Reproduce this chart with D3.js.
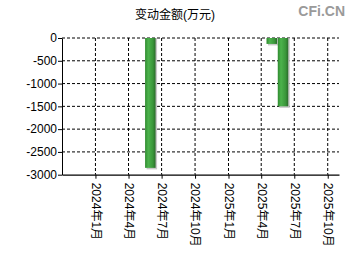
<!DOCTYPE html>
<html>
<head>
<meta charset="utf-8">
<script src="https://cdn.jsdelivr.net/npm/d3@7"></script>
<style>
  body { margin: 0; background: #fff; }
  text { font-family: "Liberation Sans", Arial, "Noto Sans CJK SC", sans-serif; }
</style>
</head>
<body>
<div id="chart"></div>
<script>
// data
const dates = ["2024-05-31", "2025-04-30", "2025-05-31"];
const values = [-2850, -130, -1500];
const yTicks = [0, -500, -1000, -1500, -2000, -2500, -3000];
const xTicks = ["2024-01-01", "2024-04-01", "2024-07-01", "2024-10-01",
                "2025-01-01", "2025-04-01", "2025-07-01", "2025-10-01"];
const title = "变动金额(万元)";

const W = 350, H = 260;
const margin = {top: 38, right: 11, bottom: 85.3, left: 62};
const parse = d3.timeParse("%Y-%m-%d");

const svg = d3.select("#chart").append("svg")
    .attr("width", W).attr("height", H);

const x = d3.scaleTime()
    .domain([parse("2023-10-01"), parse("2025-11-01")])
    .range([margin.left, W - margin.right]);

const y = d3.scaleLinear()
    .domain([-3000, 0])
    .range([H - margin.bottom, margin.top]);

// bar gradient
const defs = svg.append("defs");
const grad = defs.append("linearGradient").attr("id", "barGrad")
    .attr("x1", "0%").attr("x2", "100%").attr("y1", "0%").attr("y2", "0%");
grad.append("stop").attr("offset", "0%").attr("stop-color", "#2f8a2f");
grad.append("stop").attr("offset", "30%").attr("stop-color", "#4cb34c");
grad.append("stop").attr("offset", "75%").attr("stop-color", "#3a963a");
grad.append("stop").attr("offset", "100%").attr("stop-color", "#2a6a2a");

// title + watermark
svg.append("text")
    .attr("x", 175).attr("y", 19)
    .attr("text-anchor", "middle")
    .style("font-size", "12px")
    .text(title);

svg.append("text")
    .attr("x", 345).attr("y", 16)
    .attr("text-anchor", "end")
    .style("font-size", "14px")
    .style("font-weight", "bold")
    .attr("fill", "#9a9a9a")
    .text("CFi.CN");

// grid
const grid = svg.append("g");
grid.selectAll("line.h")
    .data(yTicks.filter(d => d !== -3000))
    .join("line")
    .attr("x1", margin.left).attr("x2", W - margin.right)
    .attr("y1", d => y(d)).attr("y2", d => y(d))
    .attr("stroke", "#000").attr("stroke-dasharray", "3,2");

grid.selectAll("line.v")
    .data(xTicks.map(parse))
    .join("line")
    .attr("x1", d => x(d)).attr("x2", d => x(d))
    .attr("y1", margin.top).attr("y2", H - margin.bottom)
    .attr("stroke", "#000").attr("stroke-dasharray", "3,2");

// bars
const barW = 10.5;
const bars = svg.append("g");
bars.selectAll("rect.shadow")
    .data(values)
    .join("rect")
    .attr("x", (d, i) => x(parse(dates[i])) - barW / 2 + 1.5)
    .attr("y", y(0))
    .attr("width", barW)
    .attr("height", d => y(d) - y(0) + 1.5)
    .attr("fill", "#c8c8c8");
bars.selectAll("rect.bar")
    .data(values)
    .join("rect")
    .attr("x", (d, i) => x(parse(dates[i])) - barW / 2)
    .attr("y", y(0))
    .attr("width", barW)
    .attr("height", d => y(d) - y(0))
    .attr("fill", "url(#barGrad)");

// axes
const yAxis = svg.append("g")
    .attr("transform", `translate(${margin.left},0)`)
    .call(d3.axisLeft(y).tickValues(yTicks).tickSize(4).tickSizeOuter(0)
        .tickFormat(d => String(d)));
yAxis.selectAll("text").style("font-size", "12px").attr("fill", "#000").attr("x", -5);
yAxis.select(".domain").attr("stroke", "#000");

const xAxis = svg.append("g")
    .attr("transform", `translate(0,${H - margin.bottom})`)
    .call(d3.axisBottom(x).tickValues(xTicks.map(parse)).tickSize(4).tickSizeOuter(0)
        .tickFormat(d3.timeFormat("%Y年%-m月")));
xAxis.select(".domain").attr("stroke", "#000").attr("stroke-width", 1.2);
xAxis.selectAll("text")
    .style("font-size", "12px")
    .attr("fill", "#000")
    .attr("transform", "rotate(90)")
    .attr("x", 8).attr("y", 0).attr("dy", "0.35em")
    .attr("text-anchor", "start");
</script>
</body>
</html>
